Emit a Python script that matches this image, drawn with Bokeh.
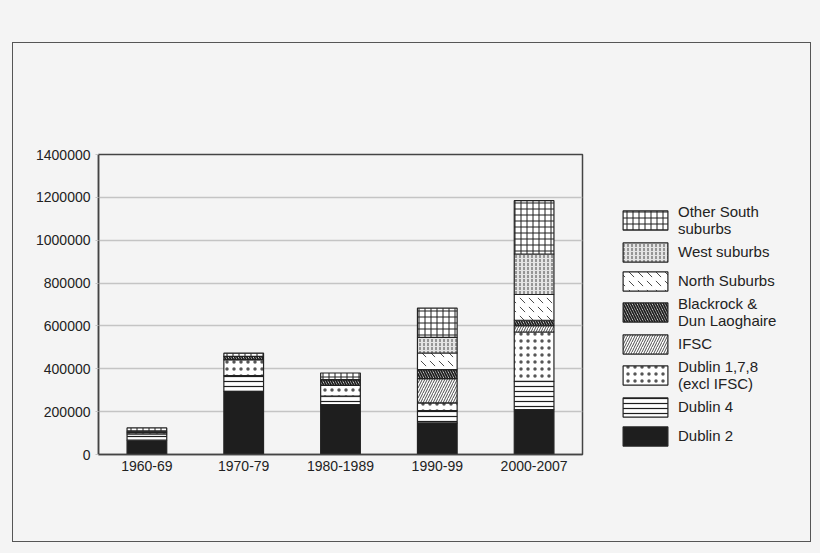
from bokeh.plotting import figure
from bokeh.layouts import row
from bokeh.models import Legend, LegendItem
from bokeh.embed import file_html
from bokeh.resources import INLINE

# decades on the x axis
periods = ["1960-69", "1970-79", "1980-1989", "1990-99", "2000-2007"]

# office floor space per area, bottom of stack first
dublin2 = [67000, 295000, 233000, 147500, 209600]
dublin4 = [29000, 73000, 39000, 57500, 132000]
dublin178 = [7000, 75000, 51000, 35700, 230000]
ifsc = [0, 0, 0, 113300, 30000]
blackrock = [6000, 15000, 26600, 42000, 25000]
north = [0, 0, 0, 77600, 120000]
west = [0, 0, 0, 73000, 189000]
other_south = [15000, 15000, 30800, 136400, 249000]

series = ["dublin2", "dublin4", "dublin178", "ifsc", "blackrock", "north", "west", "other_south"]
labels = ["Dublin 2", "Dublin 4", "Dublin 1,7,8\n(excl IFSC)", "IFSC",
          "Blackrock &\nDun Laoghaire", "North Suburbs", "West suburbs", "Other South\nsuburbs"]

y_ticks = [0, 200000, 400000, 600000, 800000, 1000000, 1200000, 1400000]

bg = "#f4f4f4"
ink = "#1e1e1e"

# fill / hatch for each series
styles = {
    "dublin2": dict(fill_color=ink, hatch_pattern=" ", hatch_scale=12, hatch_weight=1, hatch_alpha=1),
    "dublin4": dict(fill_color="white", hatch_pattern="-", hatch_scale=5, hatch_weight=1.2, hatch_alpha=1),
    "dublin178": dict(fill_color="white", hatch_pattern=".", hatch_scale=7, hatch_weight=0.5, hatch_alpha=0.75),
    "ifsc": dict(fill_color="white", hatch_pattern="/", hatch_scale=5, hatch_weight=0.8, hatch_alpha=1),
    "blackrock": dict(fill_color="white", hatch_pattern="\\", hatch_scale=5, hatch_weight=1.8, hatch_alpha=1),
    "north": dict(fill_color="white", hatch_pattern="`", hatch_scale=9, hatch_weight=0.8, hatch_alpha=1),
    "west": dict(fill_color="#e4e4e4", hatch_pattern=":", hatch_scale=4, hatch_weight=0.8, hatch_alpha=1),
    "other_south": dict(fill_color="white", hatch_pattern="+", hatch_scale=6, hatch_weight=1, hatch_alpha=1),
}

data = {"period": periods, "dublin2": dublin2, "dublin4": dublin4, "dublin178": dublin178,
        "ifsc": ifsc, "blackrock": blackrock, "north": north, "west": west,
        "other_south": other_south}

bar_style = dict(line_color="#222222", line_width=1.2, hatch_color=ink)
for key in ("fill_color", "hatch_pattern", "hatch_scale", "hatch_weight", "hatch_alpha"):
    bar_style[key] = [styles[s][key] for s in series]

p = figure(x_range=periods, y_range=(0, 1400000), width=571, height=498,
           output_backend="svg", toolbar_location=None,
           min_border_left=85, min_border_right=2, min_border_top=111, min_border_bottom=87,
           background_fill_color=bg, border_fill_color=bg)

p.vbar_stack(series, x="period", width=0.41, source=data, **bar_style)

p.xgrid.grid_line_color = None
p.ygrid.grid_line_color = "#c4c4c4"
p.ygrid.grid_line_width = 1.5
p.yaxis.ticker = y_ticks
p.yaxis.formatter.use_scientific = False
p.outline_line_color = "#444444"
p.outline_line_width = 1.5
for ax in (p.xaxis, p.yaxis):
    ax.axis_line_color = "#444444"
    ax.axis_line_width = 1.5
    ax.major_label_text_font = "Liberation Sans"
    ax.major_label_text_font_size = "14px"
    ax.major_label_text_color = "#222222"
    ax.minor_tick_line_color = None
    ax.major_tick_in = 0
p.yaxis.major_tick_out = 3
p.yaxis.major_tick_line_color = "#c4c4c4"
p.xaxis.major_tick_out = 0
p.yaxis.major_label_standoff = 5
p.xaxis.major_label_standoff = 6
p.x_range.range_padding = 0

# legend panel on the right; same stacks, hidden, only used for the legend glyphs
q = figure(x_range=periods, y_range=(0, 1400000), width=226, height=498,
           output_backend="svg", toolbar_location=None,
           x_axis_location=None, y_axis_location=None,
           min_border_left=29, min_border_right=0, min_border_top=111, min_border_bottom=87,
           background_fill_color=bg, border_fill_color=bg)
q.outline_line_color = None
q.grid.visible = False

hidden = q.vbar_stack(series, x="period", width=0.41, source=data, **bar_style)
for r in hidden:
    r.visible = False

items = [LegendItem(label=lab, renderers=[r]) for lab, r in zip(labels, hidden)]
legend = Legend(items=list(reversed(items)), location="bottom_left",
                glyph_width=56, glyph_height=24, label_height=29, spacing=0,
                padding=0, margin=4, background_fill_alpha=0, border_line_alpha=0,
                label_text_font="Liberation Sans", label_text_font_size="15px",
                label_text_color="#222222", label_standoff=5,
                label_text_line_height=0.75)
q.add_layout(legend)

layout = row(p, q)
layout.styles = {"border": "1.5px solid #555555", "margin-left": "12px", "margin-top": "42px",
                 "background-color": bg, "box-shadow": "0 0 0 60px " + bg}

open("out.html", "w").write(file_html(layout, INLINE))
